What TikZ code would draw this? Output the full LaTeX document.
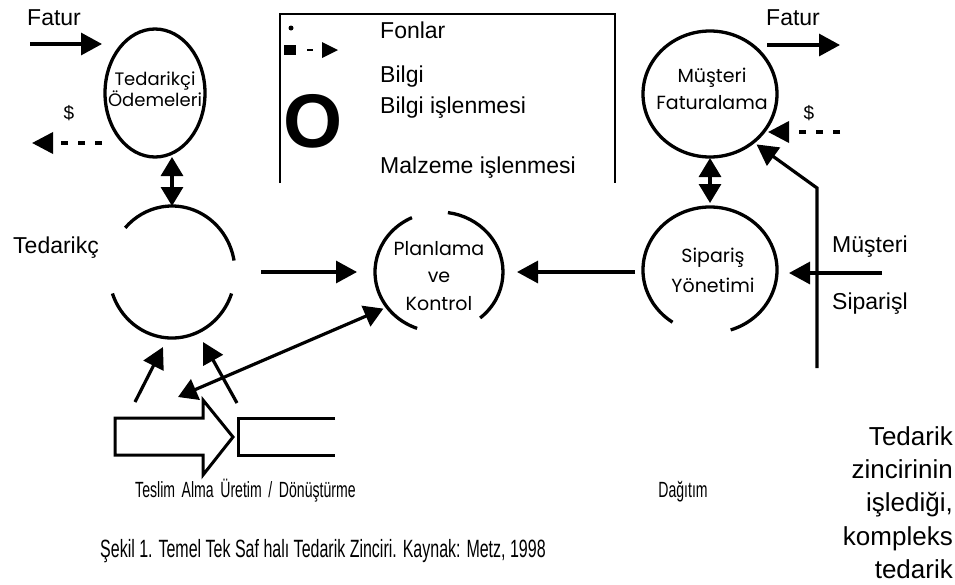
\documentclass[tikz,border=0pt]{standalone}
\usepackage{fontspec}
\setmainfont{Liberation Sans}
\newfontfamily\narrowfont[FakeStretch=0.64]{Liberation Sans}
\newfontfamily\ringfont{Poppins}
\usetikzlibrary{arrows.meta}
\usetikzlibrary{shapes.geometric}
\usetikzlibrary{calc}

\tikzset{
  ring/.style={ellipse, line width=3.3pt, inner sep=0pt, outer sep=0pt},
  ringtext/.style={font=\ringfont\fontsize{19}{27}\selectfont, align=center, inner sep=0pt},
  lbl/.style={font=\fontsize{23}{26}\selectfont, inner sep=0pt},
  narrowlbl/.style={font=\narrowfont\fontsize{22}{24}\selectfont, inner sep=0pt},
  captionlbl/.style={font=\narrowfont\fontsize{25}{27}\selectfont, inner sep=0pt},
  sidelbl/.style={font=\fontsize{26}{30}\selectfont, inner sep=0pt},
  flow/.style={line width=3.2pt, -{Triangle[length=21pt,width=22pt]}},
  twoway/.style={line width=3.2pt, {Triangle[length=19pt,width=22pt]}-{Triangle[length=19pt,width=22pt]}},
  funds/.style={line width=3.6pt, dash pattern=on 7pt off 10pt, -{Triangle[length=21pt,width=21pt]}},
  block/.style={line width=3pt, line join=miter},
}

\begin{document}
\begin{tikzpicture}[x=1pt,y=-1pt]
\useasboundingbox (0,0) rectangle (955,584);

% legend
\draw[line width=2pt] (280,183) -- (280,14) -- (615,14) -- (615,183);
\fill (291,28) circle[radius=2.5];
\fill (284,45) rectangle (296,55);
\draw[line width=2pt] (307,50) -- (313,50);
\fill (322,42) -- (338,50) -- (322,58) -- cycle;
\node[font=\bfseries\fontsize{76}{76}\selectfont, inner sep=0pt] (bigO) at (313,121) {O};
\node[lbl, anchor=base west] (fonlar) at (380,38) {Fonlar};
\node[lbl, anchor=base west] (bilgi) at (380,82) {Bilgi};
\node[lbl, anchor=base west] (bilgiis) at (380,113) {Bilgi işlenmesi};
\node[lbl, anchor=base west] (malzeme) at (380,173) {Malzeme işlenmesi};

% full rings
\node[ring, draw, minimum width=100pt, minimum height=128pt] (pay) at (155,93) {};
\node[ringtext, font=\ringfont\fontsize{18}{21}\selectfont] (paytext) at (155,89) {Tedarikçi\\Ödemeleri};
\node[ring, draw, minimum width=134pt, minimum height=126pt] (bill) at (710,94) {};
\node[ringtext] (billtext) at (712,89) {Müşteri\\Faturalama};

% broken rings
\node[ring, minimum width=126pt, minimum height=132pt] (supp) at (172,272) {};
\draw[line width=3.3pt] (supp.center) ++(-10:63 and 66) arc[start angle=-10, end angle=-138, x radius=63, y radius=66];
\draw[line width=3.3pt] (supp.center) ++(-199:63 and 66) arc[start angle=-199, end angle=-341, x radius=63, y radius=66];

\node[ring, minimum width=128pt, minimum height=120pt] (plan) at (439,272) {};
\draw[line width=3.3pt] (plan.center) ++(-115:64 and 60) arc[start angle=-115, end angle=-250, x radius=64, y radius=60];
\draw[line width=3.3pt] (plan.center) ++(50:64 and 60) arc[start angle=50, end angle=-82, x radius=64, y radius=60];
\node[ringtext, font=\ringfont\fontsize{19}{27.5}\selectfont] (plantext) at (439,276) {Planlama\\ve\\Kontrol};

\node[ring, minimum width=134pt, minimum height=126pt] (order) at (710,270) {};
\draw[line width=3.3pt] (order.center) ++(72:67 and 63) arc[start angle=72, end angle=-236, x radius=67, y radius=63];
\node[ringtext, font=\ringfont\fontsize{19}{30}\selectfont] (ordertext) at (713,270) {Sipariş\\Yönetimi};

% flows
\coordinate (fatLs) at (30,44);
\coordinate (fatLe) at (102,44);
\coordinate (fundLs) at (102,143);
\coordinate (fundLe) at (32,143);
\coordinate (fatRs) at (767,45);
\coordinate (fatRe) at (840,45);
\coordinate (fundRs) at (840,132);
\coordinate (fundRe) at (768,132);
\coordinate (ordin) at (882,273);
\coordinate (custbot) at (817,368);
\coordinate (custtop) at (817,188);
\coordinate (recvL) at (135,402);
\coordinate (recvLtip) at (163,347);
\coordinate (recvR) at (237,403);
\coordinate (recvRtip) at (203,342);
\coordinate (dock) at (178,397);

\draw[flow] (fatLs) -- (fatLe);
\draw[funds] (fundLs) -- (fundLe);
\draw[flow] (fatRs) -- (fatRe);
\draw[funds] (fundRs) -- (fundRe);
\draw[twoway] (pay.south -| supp.north) -- (supp.north);
\draw[twoway, shorten <=1pt, shorten >=4pt] (bill.south) -- (order.north);
\draw[flow, shorten <=26pt, shorten >=18pt] (supp.east) -- (plan.west);
\draw[flow, shorten <=8pt, shorten >=14pt] (order.west |- plan.center) -- (plan.east);
\draw[flow, shorten >=12pt] (ordin) -- (order.east |- ordin);
\draw[flow, shorten >=4pt] (custbot) -- (custtop) -- (bill.-48);
\draw[flow] (recvL) -- (recvLtip);
\draw[flow] (recvR) -- (recvRtip);
\draw[twoway, shorten >=4pt] (dock) -- (plan.214);

% material pipe
\draw[block] (115,418) -- (203,418) -- (203,400) -- (233,437) -- (203,475) -- (203,455) -- (115,455) -- cycle;
\draw[block] (335,418) -- (238,418) -- (238,455) -- (335,455);

% labels
\node[lbl, anchor=base west] (fatLtext) at (27,25) {Fatur};
\node[lbl, anchor=base west] (fatRtext) at (766,25) {Fatur};
\node[font=\fontsize{19}{20}\selectfont, inner sep=0pt] (dolL) at (69,113) {\$};
\node[font=\fontsize{19}{20}\selectfont, inner sep=0pt] (dolR) at (809,113) {\$};
\node[lbl, anchor=base west] (suppname) at (13,253) {Tedarikç};
\node[lbl, anchor=base west] (custname) at (832,252) {Müşteri};
\node[lbl, anchor=base west] (custorder) at (832,309) {Siparişl};
\node[narrowlbl, anchor=base west] (stages) at (135,497) {Teslim\hspace{0.3em}Alma\hspace{0.3em}Üretim\hspace{0.3em}/\hspace{0.3em}Dönüştürme};
\node[narrowlbl, anchor=base] (dist) at (683,497) {Dağıtım};
\node[captionlbl, anchor=base west] (caption) at (100,557) {Şekil 1. Temel Tek Saf halı Tedarik Zinciri. Kaynak: Metz, 1998};
\node[sidelbl, anchor=base east] (side1) at (953,445) {Tedarik};
\node[sidelbl, anchor=base east] (side2) at (953,478) {zincirinin};
\node[sidelbl, anchor=base east] (side3) at (953,511) {işlediği,};
\node[sidelbl, anchor=base east] (side4) at (953,545) {kompleks};
\node[sidelbl, anchor=base east] (side5) at (953,578) {tedarik};
\end{tikzpicture}
\end{document}
